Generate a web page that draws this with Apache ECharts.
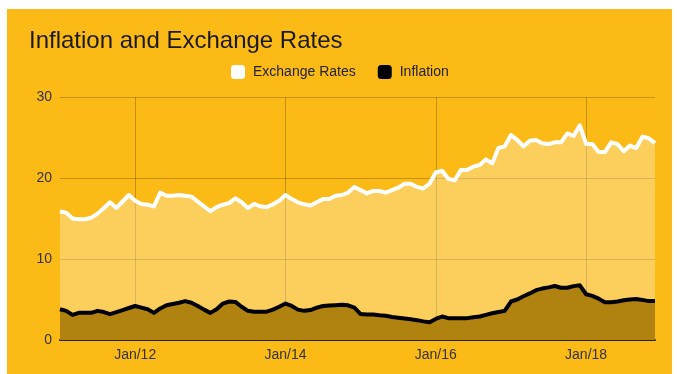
<!DOCTYPE html>
<html>
<head>
<meta charset="utf-8">
<script src="https://cdn.jsdelivr.net/npm/echarts@6/dist/echarts.min.js"></script>
<style>
  html, body { margin: 0; padding: 0; background: #ffffff; }
  #chart { position: absolute; left: 7px; top: 9px; width: 665px; height: 365px; }
</style>
</head>
<body>
<div id="chart"></div>
<script>
// Monthly observations, Jan 2011 .. Dec 2018
const months = [
  'Jan/11','Feb/11','Mar/11','Apr/11','May/11','Jun/11','Jul/11','Aug/11','Sep/11','Oct/11','Nov/11','Dec/11',
  'Jan/12','Feb/12','Mar/12','Apr/12','May/12','Jun/12','Jul/12','Aug/12','Sep/12','Oct/12','Nov/12','Dec/12',
  'Jan/13','Feb/13','Mar/13','Apr/13','May/13','Jun/13','Jul/13','Aug/13','Sep/13','Oct/13','Nov/13','Dec/13',
  'Jan/14','Feb/14','Mar/14','Apr/14','May/14','Jun/14','Jul/14','Aug/14','Sep/14','Oct/14','Nov/14','Dec/14',
  'Jan/15','Feb/15','Mar/15','Apr/15','May/15','Jun/15','Jul/15','Aug/15','Sep/15','Oct/15','Nov/15','Dec/15',
  'Jan/16','Feb/16','Mar/16','Apr/16','May/16','Jun/16','Jul/16','Aug/16','Sep/16','Oct/16','Nov/16','Dec/16',
  'Jan/17','Feb/17','Mar/17','Apr/17','May/17','Jun/17','Jul/17','Aug/17','Sep/17','Oct/17','Nov/17','Dec/17',
  'Jan/18','Feb/18','Mar/18','Apr/18','May/18','Jun/18','Jul/18','Aug/18','Sep/18','Oct/18','Nov/18','Dec/18'
];

const exchangeRates = [
  15.9, 15.7, 15.0, 14.9, 14.9, 15.1, 15.6, 16.3, 17.0, 16.3, 17.1, 17.9,
  17.2, 16.8, 16.7, 16.5, 18.2, 17.8, 17.8, 17.9, 17.8, 17.7, 17.1, 16.5,
  15.9, 16.4, 16.7, 16.9, 17.5, 17.0, 16.3, 16.8, 16.5, 16.4, 16.75, 17.2,
  17.9, 17.4, 17.0, 16.75, 16.6, 17.0, 17.4, 17.4, 17.8, 17.9, 18.2, 18.9,
  18.5, 18.1, 18.4, 18.4, 18.2, 18.5, 18.8, 19.3, 19.3, 18.9, 18.7, 19.3,
  20.7, 20.9, 19.9, 19.7, 21.0, 21.0, 21.4, 21.6, 22.3, 21.8, 23.7, 23.9,
  25.3, 24.7, 23.9, 24.6, 24.7, 24.3, 24.2, 24.4, 24.4, 25.5, 25.2, 26.5,
  24.2, 24.2, 23.2, 23.2, 24.4, 24.2, 23.3, 24.0, 23.7, 25.1, 24.9, 24.3
];

const inflation = [
  3.8, 3.6, 3.1, 3.35, 3.35, 3.35, 3.6, 3.45, 3.2, 3.45, 3.7, 3.95,
  4.2, 4.0, 3.8, 3.35, 3.9, 4.3, 4.45, 4.6, 4.8, 4.6, 4.2, 3.75,
  3.35, 3.8, 4.5, 4.75, 4.7, 4.1, 3.6, 3.5, 3.5, 3.5, 3.75, 4.1,
  4.5, 4.2, 3.75, 3.6, 3.7, 4.0, 4.2, 4.25, 4.3, 4.35, 4.28, 4.0,
  3.2, 3.15, 3.15, 3.05, 3.0, 2.85, 2.75, 2.65, 2.55, 2.45, 2.3, 2.2,
  2.6, 2.9, 2.7, 2.67, 2.67, 2.7, 2.8, 2.9, 3.1, 3.3, 3.45, 3.6,
  4.75, 5.0, 5.4, 5.75, 6.15, 6.35, 6.5, 6.67, 6.45, 6.45, 6.65, 6.75,
  5.65, 5.45, 5.1, 4.65, 4.65, 4.75, 4.9, 5.0, 5.05, 4.95, 4.8, 4.8
];

const tickLabels = ['Jan/12', 'Jan/14', 'Jan/16', 'Jan/18'];
const yTicks = [0, 10, 20, 30];

const FONT = '"Liberation Sans", Arial, sans-serif';
const showTick = (i) => tickLabels.indexOf(months[i]) !== -1;

const chart = echarts.init(document.getElementById('chart'), null, { renderer: 'canvas' });

chart.setOption({
  animation: false,
  backgroundColor: '#FBBA16',
  textStyle: { fontFamily: FONT },
  title: {
    text: 'Inflation and Exchange Rates',
    left: 17,
    top: 15,
    textStyle: { fontFamily: FONT, fontSize: 24, fontWeight: 'normal', color: '#1a1a1a' }
  },
  legend: {
    left: 219,
    top: 51,
    icon: 'roundRect',
    itemWidth: 14,
    itemHeight: 14,
    itemGap: 22,
    textStyle: { fontFamily: FONT, fontSize: 14, color: '#222', padding: [0, 0, 0, 3] },
    data: ['Exchange Rates', 'Inflation']
  },
  grid: { left: 53, right: 17, top: 88, bottom: 34 },
  xAxis: {
    type: 'category',
    data: months,
    boundaryGap: false,
    axisLine: { show: true, lineStyle: { color: '#222', width: 2 } },
    axisTick: { show: false },
    axisLabel: {
      interval: (i) => showTick(i),
      fontFamily: FONT, fontSize: 14, color: '#333', margin: 8
    },
    splitLine: {
      show: true,
      interval: (i) => showTick(i),
      lineStyle: { color: 'rgba(0,0,0,0.22)', width: 1 }
    }
  },
  yAxis: {
    type: 'value',
    min: yTicks[0],
    max: yTicks[yTicks.length - 1],
    interval: 10,
    axisLine: { show: false },
    axisTick: { show: false },
    axisLabel: { fontFamily: FONT, fontSize: 14, color: '#333', margin: 8 },
    splitLine: { lineStyle: { color: 'rgba(0,0,0,0.22)', width: 1 } }
  },
  series: [
    {
      name: 'Exchange Rates',
      type: 'line',
      data: exchangeRates,
      symbol: 'none',
      itemStyle: { color: '#ffffff' },
      lineStyle: { color: '#ffffff', width: 4, join: 'round' },
      areaStyle: { color: '#ffffff', opacity: 0.3 }
    },
    {
      name: 'Inflation',
      type: 'line',
      data: inflation,
      symbol: 'none',
      itemStyle: { color: '#000000' },
      lineStyle: { color: '#000000', width: 4, join: 'round' },
      areaStyle: { color: '#B0820F', opacity: 1 }
    }
  ]
});
</script>
</body>
</html>
